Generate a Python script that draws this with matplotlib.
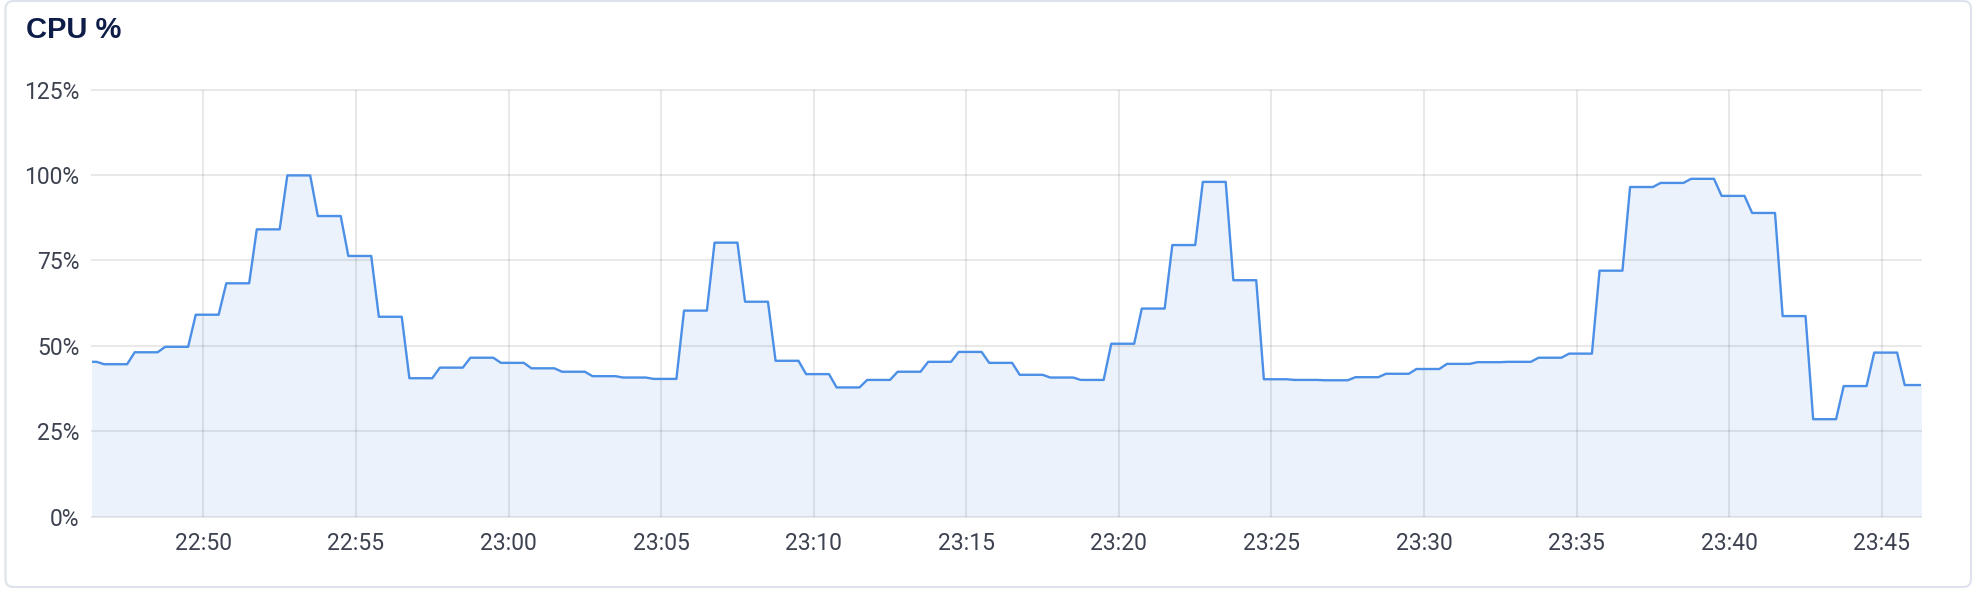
import numpy as np
import pandas as pd
import matplotlib
matplotlib.use('Agg')
import matplotlib.pyplot as plt
import matplotlib.dates as mdates
from matplotlib.patches import FancyBboxPatch

# cpu readings, one value per minute (scraped every 15s, value held for the minute)
block_start = '2024-01-01 22:45:45'
cpu = [45.3, 44.6, 48.1, 49.7, 59.1, 68.3, 84.1, 99.9, 88.0, 76.3,
       58.5, 40.5, 43.6, 46.5, 45.0, 43.4, 42.4, 41.1, 40.7, 40.3,
       60.3, 80.2, 62.9, 45.6, 41.7, 37.8, 40.0, 42.4, 45.3, 48.2,
       45.0, 41.5, 40.7, 40.0, 50.6, 60.9, 79.5, 98.0, 69.2, 40.2,
       40.0, 39.9, 40.8, 41.8, 43.2, 44.7, 45.2, 45.3, 46.5, 47.7,
       72.0, 96.5, 97.7, 98.9, 93.9, 88.9, 58.7, 28.5, 38.2, 48.0,
       38.5]
y_ticks = [0, 25, 50, 75, 100, 125]
y_labels = ['0%', '25%', '50%', '75%', '100%', '125%']
x_start = '2024-01-01 22:46:21'
x_end = '2024-01-01 23:46:17'

samples = np.repeat(cpu, 4)
times = pd.date_range(block_start, periods=len(samples), freq='15s')

fig = plt.figure(figsize=(19.82, 5.9), dpi=100)
card = FancyBboxPatch((0.055, 0.03), 19.655, 5.86, boxstyle='round,pad=0,rounding_size=0.08',
                      transform=fig.dpi_scale_trans, facecolor='white', edgecolor='#dde2ec',
                      lw=1.5, zorder=-5)
fig.add_artist(card)
fig.text(26/1982, 1-38/590, 'CPU %', fontsize=21, fontweight='bold', color='#0e1d48',
         family='Liberation Sans', va='baseline', ha='left')

ax = fig.add_axes([92/1982, 73.5/590, 1829/1982, 426.8/590])
ax.patch.set_alpha(0)
ax.fill_between(times, samples, 0, color='#ebf2fb', lw=0, zorder=1)
ax.plot(times, samples, color='#4b8fe6', lw=1.7, zorder=2)

ax.set_xlim(pd.Timestamp(x_start), pd.Timestamp(x_end))
ax.set_ylim(0, 125)
ax.set_yticks(y_ticks)
ax.set_yticklabels(y_labels)
ax.xaxis.set_major_locator(mdates.MinuteLocator(byminute=range(0, 60, 5)))
ax.xaxis.set_major_formatter(mdates.DateFormatter('%H:%M'))

for s in ax.spines.values():
    s.set_visible(False)
ax.set_axisbelow('line')
ax.grid(True, color='black', alpha=0.085, lw=1.5)
for gl in ax.get_ygridlines():
    gl.set_clip_on(False)
ax.tick_params(length=0, labelsize=16.5, labelcolor='#3d4250')
ax.tick_params(axis='x', pad=11)
ax.tick_params(axis='y', pad=9)
for lab in ax.get_xticklabels() + ax.get_yticklabels():
    lab.set_family('Roboto')

fig.savefig('out.png', dpi=100)
